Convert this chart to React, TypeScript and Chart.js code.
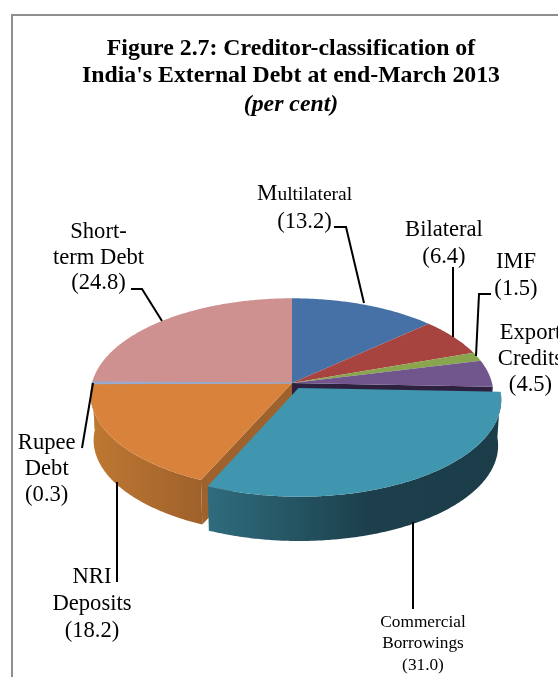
import React, { useEffect, useRef } from "react";
import { Chart, registerables } from "chart.js";

Chart.register(...registerables);

const categories = ["Multilateral", "Bilateral", "IMF", "Export Credits", "Commercial Borrowings", "NRI Deposits", "Rupee Debt", "Short-term Debt"];
const shares = [13.2, 6.4, 1.5, 4.5, 31.0, 18.2, 0.3, 24.8];
const sliceColors = ["#4571A6", "#A7443F", "#89A54E", "#70568D", "#3F96AE", "#D9823B", "#93A9CF", "#CF9090"];
const explode = [0, 0, 0, 0, 0.061, 0, 0, 0];
const titleLines = ["Figure 2.7: Creditor-classification of", "India's External Debt at end-March 2013"];
const subtitleText = "(per cent)";

const SERIF = "'Liberation Serif', 'Times New Roman', serif";

// Text placement of each callout, in category order; y is the first baseline.
const calloutText = [
  { lines: [""], cx: 304.5, y: 200, step: 27.5, size: 22.6 },
  { lines: ["Bilateral"], cx: 444, y: 236, step: 27, size: 22.6 },
  { lines: ["IMF"], cx: 516, y: 268, step: 27, size: 22.6 },
  { lines: ["Export", "Credits"], cx: 530.5, y: 339, step: 26, size: 22.6 },
  { lines: ["Commercial", "Borrowings"], cx: 423, y: 627, step: 21.3, size: 17.3 },
  { lines: ["NRI", "Deposits"], cx: 92, y: 583, step: 27, size: 22.6 },
  { lines: ["Rupee", "Debt"], cx: 46.7, y: 449, step: 26, size: 22.6 },
  { lines: ["Short-", "term Debt"], cx: 98.5, y: 238, step: 25.5, size: 22.6 },
];
const leaders = [
  [[334, 227], [346, 227], [364, 303]],
  [[453, 267], [453, 337]],
  [[491, 294], [479, 294], [476, 356]],
  [],
  [[413, 522], [413, 609]],
  [[117, 482], [117, 582]],
  [[93, 383], [82, 448]],
  [[131, 289], [142, 289], [162, 321]],
];

// Projection of the tilted disc.
const CX = 292;
const CY = 383;
const RX = 200;
const RY = 94.7;
const PERSPECTIVE = 0.118;
const DEPTH = 46;
const BASE_SCALE = 0.985;

type Pt = [number, number];

function topPoint(u: number, v: number): Pt {
  const s = 1 / (1 - PERSPECTIVE * v);
  return [CX + RX * u * s, CY + RY * v * s];
}

function basePoint(u: number, v: number): Pt {
  const s = BASE_SCALE / (1 - PERSPECTIVE * v);
  return [CX + RX * u * s, CY + DEPTH + RY * v * s];
}

function rim(a0: number, a1: number, ox: number, oy: number, project: (u: number, v: number) => Pt): Pt[] {
  const steps = Math.max(2, Math.ceil(Math.abs(a1 - a0) / 0.01));
  const out: Pt[] = [];
  for (let i = 0; i <= steps; i++) {
    const a = a0 + ((a1 - a0) * i) / steps;
    out.push(project(Math.cos(a) + ox, Math.sin(a) + oy));
  }
  return out;
}

function fillPoly(ctx: CanvasRenderingContext2D, pts: Pt[], fill: string | CanvasGradient) {
  ctx.beginPath();
  pts.forEach(([x, y], i) => (i ? ctx.lineTo(x, y) : ctx.moveTo(x, y)));
  ctx.closePath();
  ctx.fillStyle = fill;
  ctx.fill();
}

function wallGradient(ctx: CanvasRenderingContext2D, x0: number, x1: number, stops: [number, string][]) {
  const g = ctx.createLinearGradient(x0, 0, x1, 0);
  stops.forEach(([p, c]) => g.addColorStop(p, c));
  return g;
}

const pie3d = {
  id: "pie3d",
  beforeDraw(chart: any) {
    const ctx: CanvasRenderingContext2D = chart.ctx;
    ctx.save();
    ctx.strokeStyle = "#8E8E8E";
    ctx.lineWidth = 2;
    ctx.strokeRect(12, 15, 1000, 1000);
    ctx.restore();
  },
  beforeDatasetsDraw(chart: any) {
    const ctx: CanvasRenderingContext2D = chart.ctx;
    const arcs = chart.getDatasetMeta(0).data;
    const geometry = arcs.map((el: any, i: number) => {
      const mid = (el.startAngle + el.endAngle) / 2;
      return { a0: el.startAngle, a1: el.endAngle, ox: Math.cos(mid) * explode[i], oy: Math.sin(mid) * explode[i], color: el.options.backgroundColor };
    });
    const topFace = (g: any) => [topPoint(g.ox, g.oy), ...rim(g.a0, g.a1, g.ox, g.oy, topPoint)];
    const wall = (g: any, fill: string | CanvasGradient) => {
      const a0 = Math.max(g.a0, -0.05);
      const a1 = Math.min(g.a1, Math.PI + 0.05);
      if (a1 <= a0) return;
      fillPoly(ctx, [...rim(a0, a1, g.ox, g.oy, topPoint), ...rim(a1, a0, g.ox, g.oy, basePoint)], fill);
    };
    const cutFace = (a: number, fill: string) => {
      const u = Math.cos(a);
      const v = Math.sin(a);
      fillPoly(ctx, [topPoint(0, 0), topPoint(u, v), basePoint(u, v), basePoint(0, 0)], fill);
    };

    ctx.save();
    // Faces exposed by the pulled-out slice, then the outer walls.
    cutFace(geometry[3].a1, "#2E2140");
    wall(geometry[5], wallGradient(ctx, 92, 205, [[0, "#BE7832"], [1, "#9E602B"]]));
    wall(geometry[6], "#BE7832");
    cutFace(geometry[5].a0, "#A0622D");

    geometry.forEach((g: any, i: number) => {
      if (!explode[i]) fillPoly(ctx, topFace(g), g.color);
    });

    // The thinnest slice keeps a visible hairline along its whole length.
    const sliver = topFace(geometry[6]);
    ctx.beginPath();
    sliver.forEach(([x, y], i) => (i ? ctx.lineTo(x, y) : ctx.moveTo(x, y)));
    ctx.closePath();
    ctx.strokeStyle = geometry[6].color;
    ctx.lineWidth = 1;
    ctx.stroke();

    const pulled = geometry[4];
    wall(pulled, wallGradient(ctx, 208, 500, [[0, "#2F6C7D"], [0.55, "#1C3F4B"], [1, "#1B3D49"]]));
    fillPoly(ctx, topFace(pulled), pulled.color);

    // Callout leader lines.
    ctx.strokeStyle = "#000";
    ctx.lineWidth = 2;
    ctx.lineJoin = "miter";
    leaders.forEach((path) => {
      if (!path.length) return;
      ctx.beginPath();
      path.forEach(([x, y], i) => (i ? ctx.lineTo(x, y) : ctx.moveTo(x, y)));
      ctx.stroke();
    });

    // Callout text: category name followed by its share.
    ctx.fillStyle = "#000";
    ctx.textAlign = "center";
    ctx.textBaseline = "alphabetic";
    calloutText.forEach((t, i) => {
      ctx.font = `${t.size}px ${SERIF}`;
      const lines = [...t.lines, `(${shares[i].toFixed(1)})`];
      lines.forEach((line, k) => {
        if (line) ctx.fillText(line, t.cx, t.y + k * t.step);
      });
    });

    // "Multilateral" is set with a larger initial capital.
    const name = categories[0];
    const head = name.slice(0, 1);
    const tail = name.slice(1);
    ctx.textAlign = "left";
    ctx.font = `23px ${SERIF}`;
    const headWidth = ctx.measureText(head).width;
    ctx.fillText(head, 257, calloutText[0].y);
    ctx.font = `19.5px ${SERIF}`;
    ctx.fillText(tail, 257 + headWidth, calloutText[0].y);
    ctx.restore();
    return false;
  },
};

export default function App() {
  const ref = useRef<HTMLCanvasElement>(null);
  useEffect(() => {
    document.body.style.overflow = "hidden";
    const chart = new Chart(ref.current!, {
      type: "pie",
      data: {
        labels: categories,
        datasets: [{ data: shares, backgroundColor: sliceColors, borderWidth: 0 }],
      },
      plugins: [pie3d as any],
      options: {
        responsive: false,
        animation: false,
        layout: { padding: { left: 24, right: 0, top: 35, bottom: 0 } },
        plugins: {
          legend: { display: false },
          tooltip: { enabled: false },
          title: {
            display: true,
            text: titleLines,
            color: "#000",
            font: { family: SERIF, size: 23.8, weight: "bold", lineHeight: 1.15 },
            padding: { top: 0, bottom: 0 },
          },
          subtitle: {
            display: true,
            text: subtitleText,
            color: "#000",
            font: { family: SERIF, size: 23.8, weight: "bold", style: "italic", lineHeight: 1.15 },
            padding: { top: 1.5, bottom: 0 },
          },
        },
      },
    });
    return () => chart.destroy();
  }, []);
  return (
    <div style={{ position: "absolute", left: 0, top: 0, width: 558, height: 677, overflow: "hidden", background: "#fff" }}>
      <canvas ref={ref} width={558} height={677} style={{ display: "block" }} />
    </div>
  );
}
